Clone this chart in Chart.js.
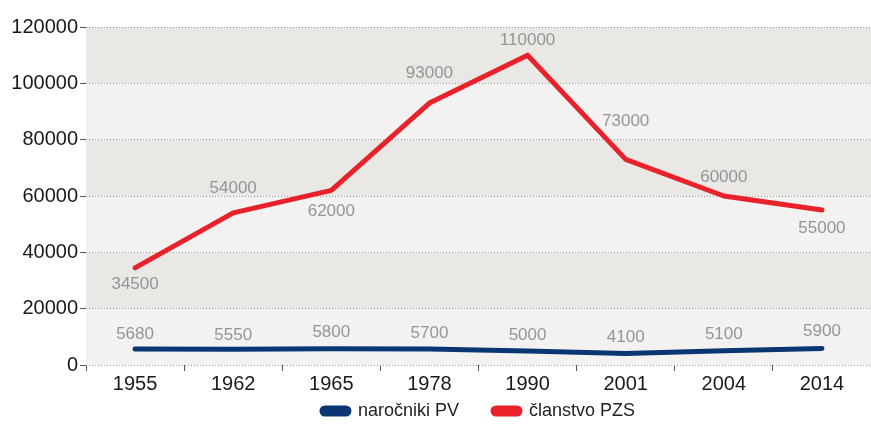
<!DOCTYPE html>
<html>
<head>
<meta charset="utf-8">
<script src="https://cdn.jsdelivr.net/npm/chart.js@4/dist/chart.umd.min.js"></script>
<style>
html,body{margin:0;padding:0;background:#fff;}
#wrap{width:871px;height:429px;position:relative;}
</style>
</head>
<body>
<div id="wrap"><canvas id="c" width="871" height="429"></canvas></div>
<script>
const categories = ['1955','1962','1965','1978','1990','2001','2004','2014'];
const narocnikiPV = [5680, 5550, 5800, 5700, 5000, 4100, 5100, 5900];
const clanstvoPZS = [34500, 54000, 62000, 93000, 110000, 73000, 60000, 55000];
const yTicks = [0, 20000, 40000, 60000, 80000, 100000, 120000];
const seriesNames = ['naročniki PV', 'članstvo PZS'];

// value-label vertical offsets from the point (style only, px)
const labelOffsetBlue = [-15, -14, -16, -16, -16, -16, -16, -17];
const labelOffsetRed = [16, -25, 21, -30, -15, -38, -19, 18];

const FONT = '"Liberation Sans", Arial, sans-serif';

const bandsPlugin = {
  id: 'bands',
  beforeDraw(chart) {
    const {ctx, chartArea, scales} = chart;
    const y = scales.y;
    ctx.save();
    for (let i = 0; i < yTicks.length - 1; i++) {
      const top = y.getPixelForValue(yTicks[i+1]);
      const bot = y.getPixelForValue(yTicks[i]);
      ctx.fillStyle = (i % 2 === 0) ? '#f3f2f1' : '#eae8e5';
      ctx.fillRect(chartArea.left, top, chartArea.right - chartArea.left, bot - top);
    }
    ctx.restore();
  }
};

const labelsPlugin = {
  id: 'vlabels',
  afterDatasetsDraw(chart) {
    const ctx = chart.ctx;
    ctx.save();
    ctx.font = '17px ' + FONT;
    ctx.fillStyle = '#959595';
    ctx.textAlign = 'center';
    ctx.textBaseline = 'middle';
    chart.data.datasets.forEach((ds, di) => {
      const meta = chart.getDatasetMeta(di);
      const offs = di === 0 ? labelOffsetBlue : labelOffsetRed;
      meta.data.forEach((pt, i) => {
        ctx.fillText(String(ds.data[i]), pt.x, pt.y + offs[i]);
      });
    });
    ctx.restore();
  }
};

const LEGEND_GAP = 34;
const legendTweak = {
  id: 'legendTweak',
  beforeUpdate(chart) {
    const lg = chart.legend;
    if (!lg || lg._tweaked) return;
    lg._tweaked = true;
    const origFit = lg.fit;
    lg.fit = function () { origFit.call(this); this.height = 33; };
    const origDraw = lg.draw;
    lg.draw = function () {
      const t = this.top, l = this.left;
      this.top = t - 28;
      this.left = chart.chartArea.left;
      origDraw.call(this);
      this.top = t;
      this.left = l;
    };
  }
};

new Chart(document.getElementById('c'), {
  type: 'line',
  data: {
    labels: categories,
    datasets: [
      {
        label: seriesNames[0],
        data: narocnikiPV,
        borderColor: '#0b3674',
        backgroundColor: '#0b3674',
        borderWidth: 5,
        pointRadius: 0,
        borderCapStyle: 'round',
        borderJoinStyle: 'round',
        tension: 0
      },
      {
        label: seriesNames[1],
        data: clanstvoPZS,
        borderColor: '#e8212b',
        backgroundColor: '#e8212b',
        borderWidth: 5,
        pointRadius: 0,
        borderCapStyle: 'round',
        borderJoinStyle: 'round',
        tension: 0
      }
    ]
  },
  options: {
    responsive: false,
    animation: false,
    devicePixelRatio: 1,
    layout: { padding: { top: 27, right: 0, left: 0, bottom: 0 } },
    plugins: {
      tooltip: { enabled: false },
      legend: {
        position: 'bottom',
        labels: {
          font: { size: 18, family: FONT },
          color: '#222',
          boxWidth: 27,
          boxHeight: 6,
          useBorderRadius: true,
          borderRadius: 3,
          padding: LEGEND_GAP
        }
      }
    },
    scales: {
      x: {
        offset: true,
        border: { display: false },
        afterFit(scale) { scale.height = 31; },
        grid: {
          offset: true,
          drawOnChartArea: false,
          drawTicks: true,
          tickLength: 6,
          tickColor: '#555',
          tickWidth: 1
        },
        ticks: {
          font: { size: 20, family: FONT },
          color: '#1a1a1a',
          padding: 1,
          maxRotation: 0
        }
      },
      y: {
        min: 0,
        max: 120000,
        border: { display: false, dash: [1, 2] },
        afterFit(scale) { scale.width = 86; },
        afterBuildTicks(scale) { scale.ticks = yTicks.map(v => ({ value: v })); },
        grid: {
          color: '#9a9a9a',
          lineWidth: 1,
          tickLength: 6,
          tickColor: '#555',
          tickBorderDash: [],
          drawTicks: true
        },
        ticks: {
          font: { size: 20, family: FONT },
          color: '#1a1a1a',
          padding: 2,
          callback: v => String(v)
        }
      }
    }
  },
  plugins: [bandsPlugin, labelsPlugin, legendTweak]
});
</script>
</body>
</html>
